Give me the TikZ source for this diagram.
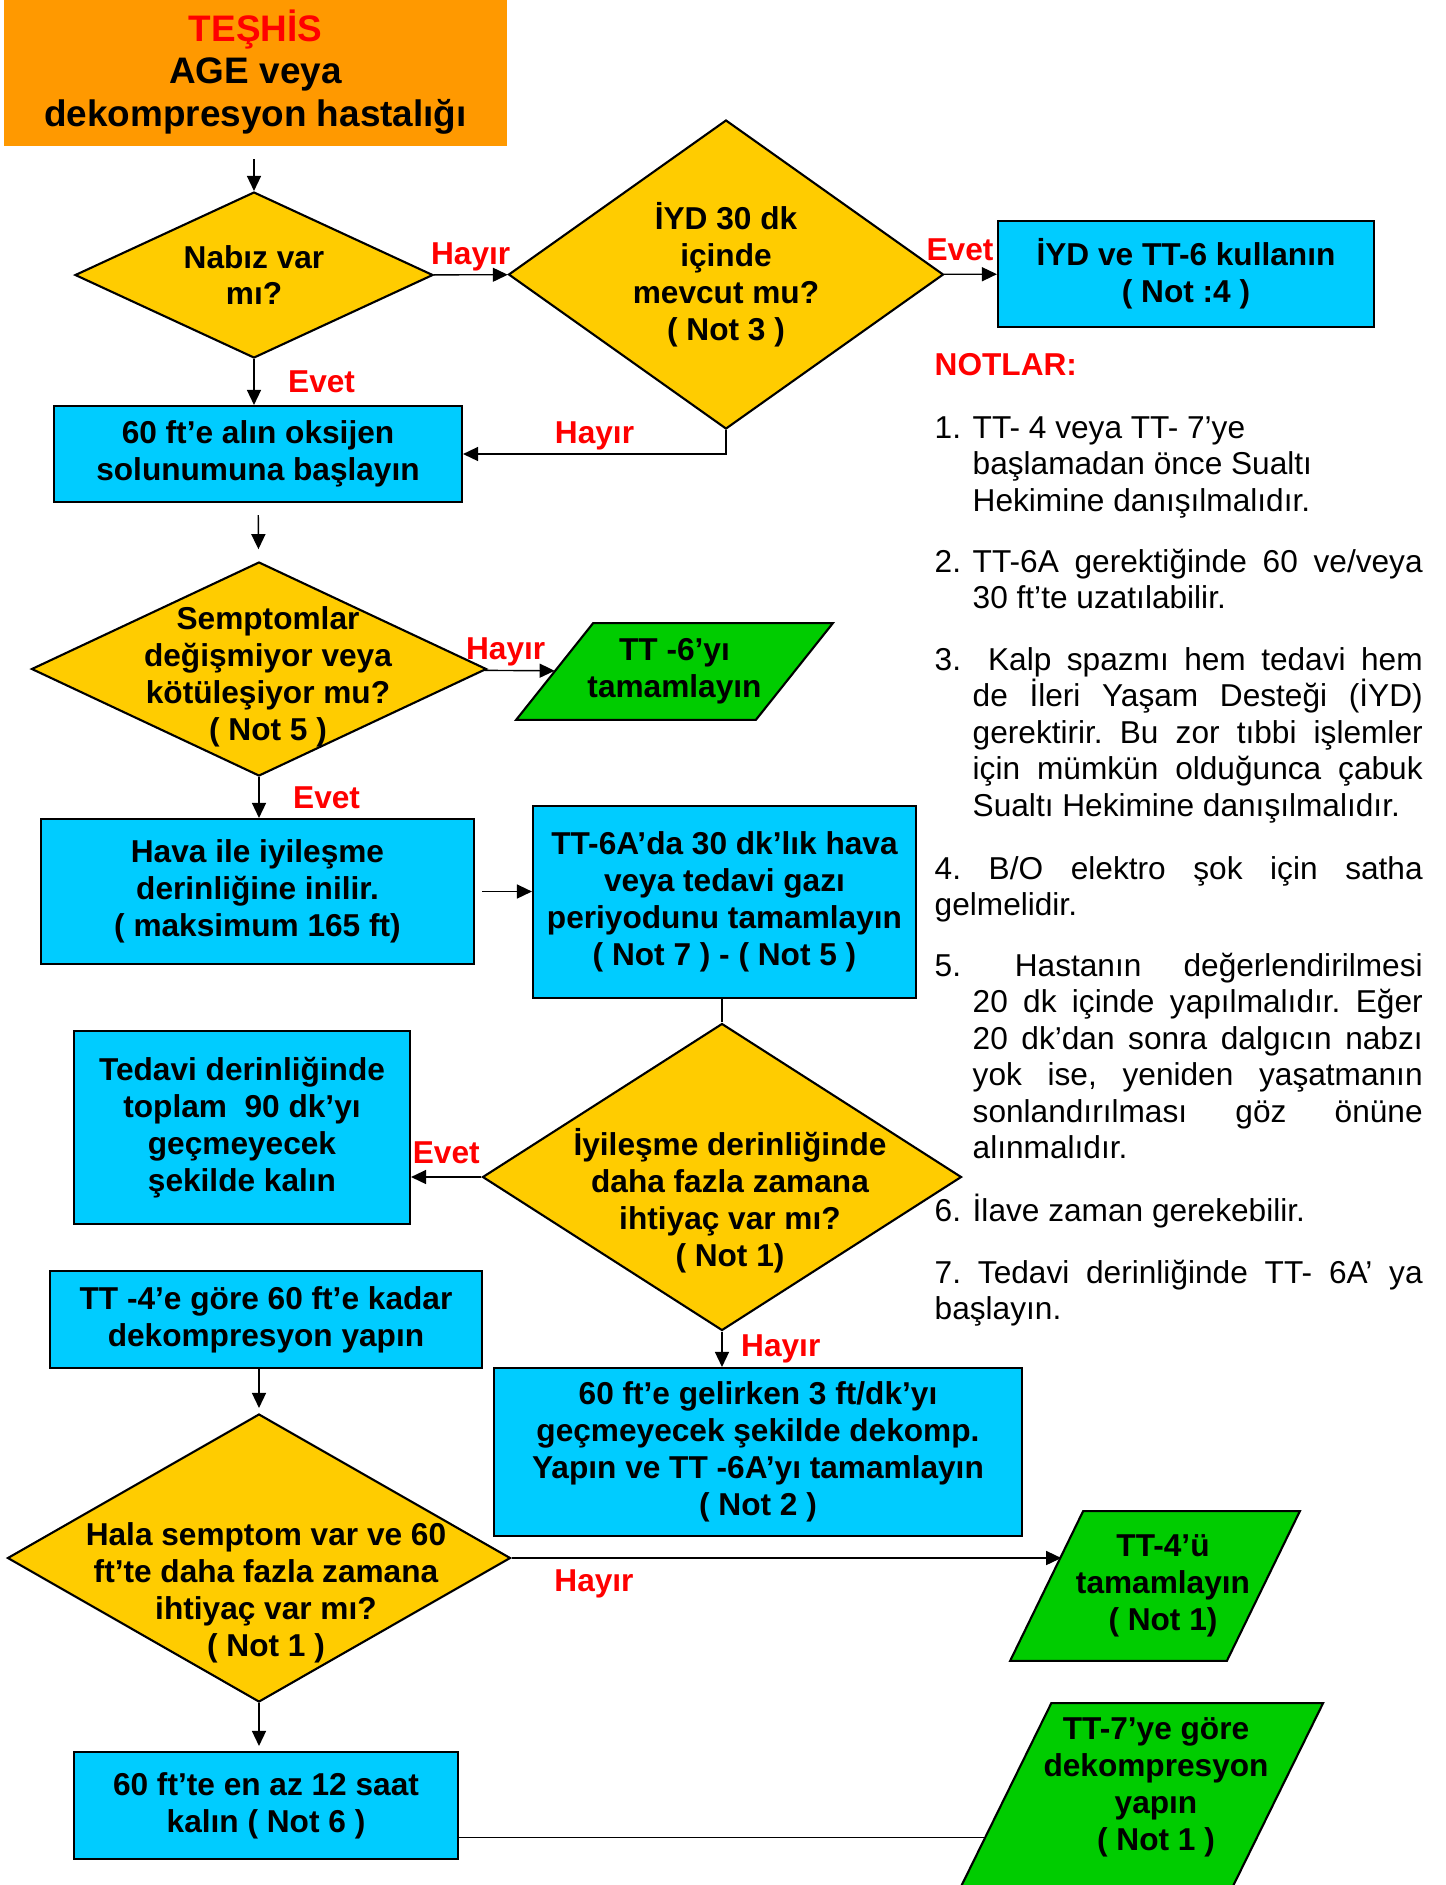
\documentclass[tikz,border=0pt]{standalone}
\usepackage{fontspec}
\setmainfont{Liberation Sans}
\usetikzlibrary{arrows.meta,positioning,calc,shapes.geometric}
\pgfdeclarelayer{back}
\pgfsetlayers{back,main}

\definecolor{tanorange}{HTML}{FF9900}
\definecolor{stepblue}{HTML}{00CCFF}
\definecolor{askyellow}{HTML}{FFCC00}
\definecolor{endgreen}{HTML}{00CC00}
\newcommand{\notnum}[1]{\hangindent=3.8mm\hangafter=1\makebox[3.8mm][l]{#1}}

\begin{document}
\begin{tikzpicture}[
  x=0.1mm, y=-0.1mm, line width=0.5pt,
  flow/.style={font=\fontsize{9}{10.5}\selectfont\bfseries, align=center},
  box/.style={flow, draw, line width=0.6pt, fill=stepblue, inner sep=0.5mm},
  ask/.style={diamond, draw, line width=0.6pt, fill=askyellow, inner sep=0pt},
  endbox/.style={inner sep=0pt},
  txt/.style={flow},
  lab/.style={font=\fontsize{9}{10.5}\selectfont\bfseries, text=red, inner sep=1pt},
  note/.style={font=\fontsize{9}{10.4}\selectfont\frenchspacing, text width=48.8mm, align=justify, inner sep=0pt, anchor=base west},
  >={Triangle[length=1.5mm, width=1.4mm]}
]
  \useasboundingbox (0,0) rectangle (1446,1885);

  % Nodes
  \node[flow, fill=tanorange, font=\fontsize{10.5}{12.2}\selectfont\bfseries, minimum width=50.3mm, minimum height=14.4mm] (diag) at (255.5,72) {\textcolor{red}{TEŞHİS}\\AGE veya\\dekompresyon hastalığı};
  \node[ask, minimum width=35.8mm, minimum height=16.6mm, label={[txt]center:{Nabız var\\mı?}}] (pulse) at (254,275) {};
  \node[ask, minimum width=43.5mm, minimum height=30.9mm, label={[txt]center:{İYD 30 dk\\içinde\\mevcut mu?\\( Not 3 )}}] (als) at (726,274.5) {};
  \node[box, minimum width=37.6mm, minimum height=10.6mm] (alsuse) at (1186,274) {İYD ve TT-6 kullanın\\( Not :4 )};
  \node[box, minimum width=40.8mm, minimum height=9.6mm] (oxygen) at (258,454) {60 ft’e alın oksijen\\solunumuna başlayın};
  \node[ask, minimum width=45.5mm, minimum height=21.4mm, label={[txt, xshift=0.9mm, yshift=-0.8mm]center:{Semptomlar\\değişmiyor veya\\kötüleşiyor mu?\\( Not 5 )}}] (worse) at (259,669) {};
  \node[endbox, minimum width=23.8mm, minimum height=9.5mm, label={[txt]center:{TT -6’yı\\tamamlayın}}] (tt6) at (674.5,671.5) {};
  \node[box, minimum width=43.3mm, minimum height=14.5mm] (descend) at (257.5,891.5) {Hava ile iyileşme\\derinliğine inilir.\\( maksimum 165 ft)};
  \node[box, minimum width=38.3mm, minimum height=19.2mm] (tt6a) at (724.5,902) {TT-6A’da 30 dk’lık hava\\veya tedavi gazı\\periyodunu tamamlayın\\( Not 7 ) - ( Not 5 )};
  \node[ask, minimum width=47.9mm, minimum height=30.7mm, label={[txt, xshift=0.8mm, yshift=-2.4mm]center:{İyileşme derinliğinde\\daha fazla zamana\\ihtiyaç var mı?\\( Not 1)}}] (moretime) at (722,1177) {};
  \node[box, minimum width=33.6mm, minimum height=19.3mm] (stay) at (242,1127.5) {Tedavi derinliğinde\\toplam\ \ 90 dk’yı\\geçmeyecek\\şekilde kalın};
  \node[box, minimum width=43.2mm, minimum height=9.7mm] (tt4deco) at (266,1319.5) {TT -4’e göre 60 ft’e kadar\\dekompresyon yapın};
  \node[box, minimum width=52.8mm, minimum height=16.8mm] (slowdeco) at (758,1452) {60 ft’e gelirken 3 ft/dk’yı\\geçmeyecek şekilde dekomp.\\Yapın ve TT -6A’yı tamamlayın\\( Not 2 )};
  \node[ask, minimum width=50.3mm, minimum height=28.8mm, label={[txt, xshift=0.7mm, yshift=-3.5mm]center:{Hala semptom var ve 60\\ft’te daha fazla zamana\\ihtiyaç var mı?\\( Not 1 )}}] (still) at (259,1558) {};
  \node[endbox, minimum width=21.5mm, minimum height=14.8mm, label={[txt, xshift=0.8mm]center:{TT-4’ü\\tamamlayın\\( Not 1)}}] (tt4) at (1155,1586) {};
  \node[box, minimum width=38.4mm, minimum height=10.7mm] (hold) at (266,1805.5) {60 ft’te en az 12 saat\\kalın ( Not 6 )};
  \node[endbox, minimum width=27mm, minimum height=19mm, label={[txt, xshift=1.6mm, yshift=1.2mm]center:{TT-7’ye göre\\dekompresyon\\yapın\\( Not 1 )}}] (tt7) at (1140,1799) {};

  % Parallelograms behind the end steps
  \begin{pgfonlayer}{back}
    \foreach \pnode/\pslant in {tt6/3.85mm, tt4/3.65mm, tt7/4.72mm}
      \draw[line width=0.6pt, fill=endgreen] ([xshift=\pslant]\pnode.north west) -- ([xshift=\pslant]\pnode.north east)
        -- ([xshift=-\pslant]\pnode.south east) -- ([xshift=-\pslant]\pnode.south west) -- cycle;
  \end{pgfonlayer}

  % Notes
  \node[note, font=\fontsize{9}{10.4}\selectfont\bfseries, text=red] (notes) at (934,375) {NOTLAR:};
  \node[note] (n1) at (934,438) {\notnum{1.}TT- 4 veya TT- 7’ye\newline başlamadan önce Sualtı\newline Hekimine danışılmalıdır.\par};
  \node[note] (n2) at (934,572) {\notnum{2.}TT-6A gerektiğinde 60 ve/veya\linebreak 30 ft’te uzatılabilir.\par};
  \node[note] (n3) at (934,670) {\notnum{3.} Kalp spazmı hem tedavi hem\linebreak de İleri Yaşam Desteği (İYD)\linebreak gerektirir. Bu zor tıbbi işlemler\linebreak için mümkün olduğunca çabuk\linebreak Sualtı Hekimine danışılmalıdır.\par};
  \node[note] (n4) at (934,879) {4. B/O elektro şok için satha\linebreak gelmelidir.\par};
  \node[note] (n5) at (934,976) {\notnum{5.} Hastanın değerlendirilmesi\linebreak 20 dk içinde yapılmalıdır. Eğer\linebreak 20 dk’dan sonra dalgıcın nabzı\linebreak yok ise, yeniden yaşatmanın\linebreak sonlandırılması göz önüne\linebreak alınmalıdır.\par};
  \node[note] (n6) at (934,1221) {\notnum{6.}İlave zaman gerekebilir.\par};
  \node[note] (n7) at (934,1283) {7. Tedavi derinliğinde TT- 6A’ ya\linebreak başlayın.\par};

  % Flows
  \draw[->, shorten <=1.2mm] (pulse.north |- diag.south) -- (pulse.north);
  \draw[->] (pulse) -- (als) node[lab, midway, above] {Hayır};
  \draw[->] (als) -- (alsuse) node[lab, pos=0.3, above=2.5pt] {Evet};
  \draw[->] (pulse.south) -- (pulse.south |- oxygen.north) node[lab, midway, right=3mm] {Evet};
  \draw[->] (als.south) |- (oxygen.east) node[lab, pos=0.75, above] {Hayır};
  \draw[->, shorten <=1.2mm, shorten >=1.2mm] (oxygen) -- (worse);
  \draw[->] (worse) -- (tt6) node[lab, pos=0.3, above] {Hayır};
  \draw[->] (worse.south) -- (worse.south |- descend.north) node[lab, midway, right=3mm] {Evet};
  \draw[->, shorten <=0.7mm] (descend.east) -- (descend.east -| tt6a.west);
  \draw (moretime.north |- tt6a.south) -- (moretime.north);
  \draw[->] (moretime.west) -- (moretime.west -| stay.east) node[lab, midway, above=2.5pt] {Evet};
  \draw[->] (moretime.south) -- (moretime.south |- slowdeco.north) node[lab, midway, right=1.5mm] {Hayır};
  \draw[->, shorten >=0.5mm] (still.north |- tt4deco.south) -- (still.north);
  \coordinate (tt4in) at ($([xshift=3.65mm]tt4.north west)!0.3!([xshift=-3.65mm]tt4.south west)$);
  \draw[->] (still.east) -- (still.east -| tt4in) node[lab, pos=0.15, below=2pt] {Hayır};
  \draw[->, shorten >=0.5mm] (still.south) -- (still.south |- hold.north);
  \coordinate (tt7in) at ($([xshift=4.72mm]tt7.north west)!0.7!([xshift=-4.72mm]tt7.south west)$);
  \draw (tt7in -| hold.east) -- (tt7in);
\end{tikzpicture}
\end{document}
